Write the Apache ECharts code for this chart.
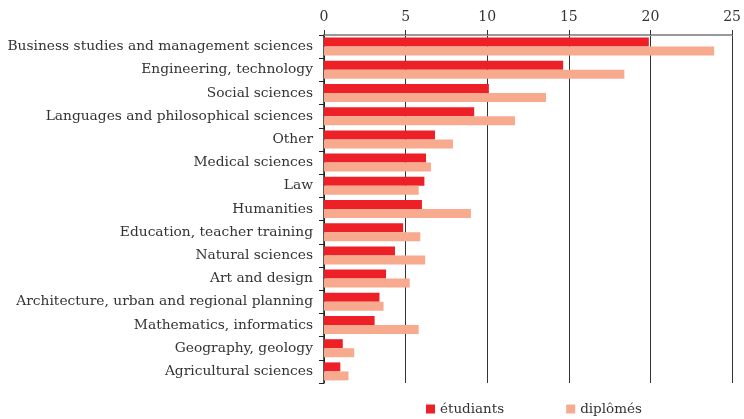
<!DOCTYPE html>
<html>
<head>
<meta charset="utf-8">
<script src="https://cdn.jsdelivr.net/npm/echarts@6/dist/echarts.min.js"></script>
<style>
  html, body { margin: 0; padding: 0; background: #fff; }
  #chart { width: 744px; height: 419px; }
</style>
</head>
<body>
<div id="chart"></div>
<script>
// fields of study, top to bottom
var categories = [
	'Business studies and management sciences',
	'Engineering, technology',
	'Social sciences',
	'Languages and philosophical sciences',
	'Other',
	'Medical sciences',
	'Law',
	'Humanities',
	'Education, teacher training',
	'Natural sciences',
	'Art and design',
	'Architecture, urban and regional planning',
	'Mathematics, informatics',
	'Geography, geology',
	'Agricultural sciences'
];
var etudiants = [19.9, 14.65, 10.1, 9.2, 6.8, 6.25, 6.15, 6.0, 4.85, 4.35, 3.8, 3.4, 3.1, 1.15, 1.0];
var diplomes = [23.9, 18.4, 13.6, 11.7, 7.9, 6.55, 5.8, 9.0, 5.9, 6.2, 5.25, 3.65, 5.8, 1.85, 1.5];
var xTicks = { min: 0, max: 25, interval: 5 };

var font = '"DejaVu Serif", serif';
var chart = echarts.init(document.getElementById('chart'));
var option = {
	animation: false,
	textStyle: { fontFamily: font },
	grid: { left: 324, right: 11, top: 35, height: 348, containLabel: false },
	legend: {
		left: 421,
		top: 397,
		itemWidth: 9,
		itemHeight: 9,
		itemGap: 62,
		icon: 'rect',
		textStyle: { fontFamily: font, fontSize: 13.5, color: '#333' },
		data: ['étudiants', 'diplômés']
	},
	xAxis: {
		type: 'value',
		position: 'top',
		min: xTicks.min,
		max: xTicks.max,
		interval: xTicks.interval,
		axisLine: { show: true, lineStyle: { color: '#999', width: 2 } },
		axisTick: { show: true, length: 5, lineStyle: { color: '#333' } },
		axisLabel: { fontFamily: font, fontSize: 14, color: '#333', margin: 11 },
		splitLine: { show: true, lineStyle: { color: '#333', width: 1 } }
	},
	yAxis: {
		type: 'category',
		inverse: true,
		data: categories,
		axisLine: { show: true, lineStyle: { color: '#222', width: 1.5 } },
		axisTick: { show: true, length: 5, lineStyle: { color: '#222' } },
		axisLabel: { fontFamily: font, fontSize: 13.8, color: '#333', margin: 11, padding: [4, 0, 0, 0] }
	},
	series: [{
		name: 'étudiants',
		type: 'bar',
		data: etudiants,
		barWidth: 9,
		barGap: '0%',
		itemStyle: { color: '#ED1F27' }
	}, {
		name: 'diplômés',
		type: 'bar',
		data: diplomes,
		barWidth: 9,
		barGap: '0%',
		itemStyle: { color: '#F8AA8E' }
	}]
};
chart.setOption(option);
</script>
</body>
</html>
